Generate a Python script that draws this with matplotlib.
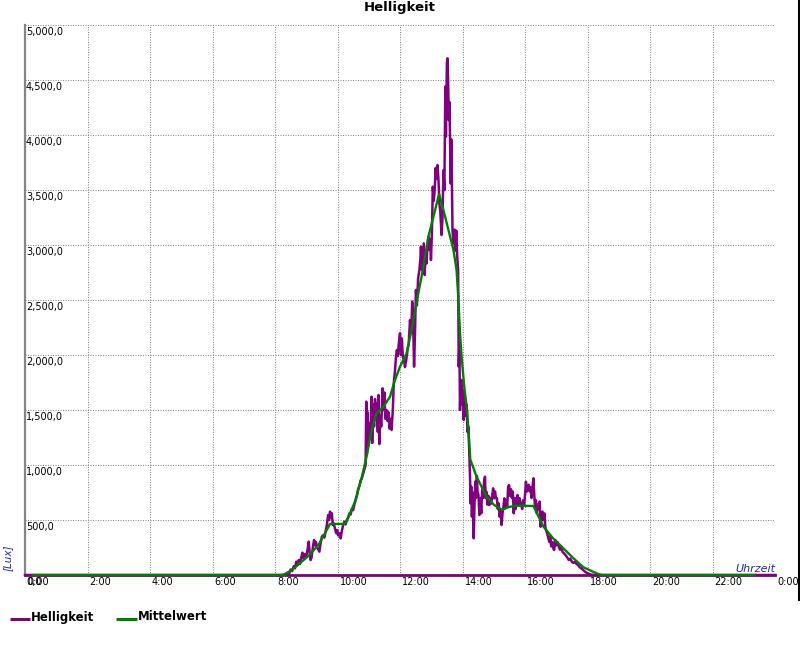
import matplotlib
matplotlib.use("Agg")
import matplotlib.pyplot as plt
from matplotlib.lines import Line2D
from matplotlib.transforms import blended_transform_factory, offset_copy

# ---------------- data ----------------
title = "Helligkeit"
series_names = ["Helligkeit", "Mittelwert"]
y_unit = "[Lux]"
x_name = "Uhrzeit"

x_tick_hours = list(range(0, 25, 2))
x_tick_labels = ["0:00", "2:00", "4:00", "6:00", "8:00", "10:00", "12:00",
                 "14:00", "16:00", "18:00", "20:00", "22:00", "0:00"]
y_tick_values = [0, 500, 1000, 1500, 2000, 2500, 3000, 3500, 4000, 4500, 5000]
y_tick_labels = ["0,0", "500,0", "1,000,0", "1,500,0", "2,000,0", "2,500,0",
                 "3,000,0", "3,500,0", "4,000,0", "4,500,0", "5,000,0"]

# Helligkeit (raw brightness), hours of day
hell_t = [0.00, 8.20, 8.30, 8.40, 8.45, 8.50, 8.55, 8.60, 8.64, 8.68, 8.72, 8.76, 8.80,
          8.84, 8.88, 8.92, 8.96, 9.00, 9.04, 9.08, 9.11, 9.14, 9.17, 9.21, 9.25, 9.28,
          9.31, 9.35, 9.39, 9.42, 9.46, 9.50, 9.54, 9.58, 9.62, 9.66, 9.70, 9.73, 9.76,
          9.79, 9.82, 9.85, 9.88, 9.92, 9.96, 9.99, 10.02, 10.06, 10.10, 10.14, 10.18,
          10.22, 10.26, 10.30, 10.34, 10.38, 10.42, 10.46, 10.50, 10.54, 10.58, 10.62,
          10.66, 10.70, 10.74, 10.78, 10.82, 10.86, 10.90,
          10.92, 10.94, 10.96, 10.99, 11.02, 11.05, 11.09, 11.11, 11.14, 11.17, 11.20,
          11.23, 11.26, 11.29, 11.31, 11.34, 11.37, 11.40, 11.44, 11.47, 11.50, 11.53,
          11.57, 11.60, 11.63, 11.67, 11.70, 11.73, 11.77, 11.80, 11.84, 11.87, 11.90,
          11.93, 11.96, 12.00, 12.03, 12.06, 12.09, 12.13, 12.16, 12.20, 12.24, 12.28,
          12.32, 12.36, 12.39, 12.42, 12.45, 12.48, 12.51, 12.54, 12.58, 12.62,
          12.65, 12.67, 12.70, 12.73, 12.76, 12.79, 12.82, 12.85, 12.88, 12.91, 12.94,
          12.97, 12.99, 13.02, 13.05, 13.08, 13.11, 13.14, 13.17, 13.20, 13.23, 13.26,
          13.29, 13.33, 13.36, 13.39, 13.42, 13.45, 13.47, 13.50, 13.52, 13.54, 13.56,
          13.58, 13.60, 13.62, 13.64, 13.66, 13.68, 13.71, 13.74, 13.77, 13.80, 13.83,
          13.86, 13.88, 13.90, 13.92, 13.94,
          13.97, 13.99, 14.01, 14.04, 14.07, 14.10, 14.13, 14.16, 14.19, 14.22, 14.24,
          14.26, 14.28, 14.30, 14.33, 14.36, 14.38, 14.41, 14.43, 14.46, 14.48, 14.51,
          14.54, 14.57, 14.60, 14.63, 14.66, 14.69, 14.72, 14.74, 14.77, 14.80, 14.83,
          14.86, 14.89, 14.92, 14.95, 14.98, 15.01, 15.04, 15.07, 15.10, 15.13, 15.16,
          15.19, 15.22, 15.25, 15.28, 15.31, 15.34, 15.37, 15.40, 15.43, 15.46, 15.49,
          15.52, 15.55, 15.58, 15.61, 15.64, 15.67, 15.70, 15.73, 15.76, 15.79, 15.82,
          15.85, 15.88, 15.91, 15.94, 15.97, 16.00, 16.03, 16.06, 16.09, 16.12, 16.15,
          16.18, 16.21, 16.24, 16.27, 16.29, 16.32, 16.35, 16.38, 16.41, 16.44, 16.47,
          16.50, 16.53, 16.56, 16.59, 16.62, 16.65, 16.68, 16.71, 16.75, 16.78, 16.81,
          16.84, 16.88, 16.91, 16.93, 16.97, 17.00, 17.04, 17.08, 17.12, 17.16, 17.20,
          17.25, 17.30, 17.35, 17.40, 17.45, 17.50, 17.55, 17.60, 17.65, 17.70, 17.75,
          17.80, 17.86, 17.92, 18.00, 18.10, 18.20, 24.00]
hell_v = [0, 0, 5, 20, 10, 50, 35, 80, 60, 121, 90, 136, 100,
          160, 203, 150, 190, 170, 230, 303, 200, 136, 160, 250, 318, 270,
          300, 250, 227, 212, 290, 350, 360, 340, 400, 455, 545, 500, 576,
          520, 560, 455, 470, 420, 380, 409, 360, 380, 333, 400, 455,
          485, 460, 500, 520, 560, 550, 600, 590, 640, 680, 720,
          780, 810, 860, 880, 920, 960, 1000,
          1576, 1100, 1480, 1180, 1380, 1250, 1621, 1200, 1550, 1350, 1600,
          1410, 1560, 1300, 1636, 1190, 1450, 1350, 1697, 1500, 1660, 1420,
          1500, 1400, 1480, 1330, 1420, 1318, 1500, 1740, 1860, 1980, 2045,
          1990, 2100, 2197, 2000, 2150, 1985, 1950, 1890, 1955, 2045, 2106,
          2318, 2200, 2485, 2300, 1894, 2200, 2591, 2450, 2700, 2770,
          2864, 2985, 2773, 2900, 3015, 2727, 2950, 2833, 3000, 3076, 2955,
          3050, 2864, 3100, 3530, 3400, 3500, 3700, 3600, 3727, 3600, 3380,
          3300, 3091, 3250, 3680, 3500, 4440, 3985, 4650, 4697, 4500, 4136,
          4300, 3985, 3560, 3960, 3600, 3136, 3015, 3140, 2950, 3130, 2900,
          2773, 1894, 2100, 1500, 1750,
          1773, 1550, 1682, 1410, 1650, 1450, 1550, 1300, 1348, 1076, 900,
          650, 803, 530, 750, 333, 600, 850, 700, 900, 760, 727,
          545, 700, 561, 780, 700, 850, 894, 700, 755, 640, 720,
          636, 700, 650, 720, 788, 697, 760, 700, 697, 600, 650,
          530, 600, 455, 560, 620, 697, 606, 680, 620, 800, 818,
          720, 780, 700, 758, 561, 700, 600, 680, 727, 636, 700,
          660, 636, 600, 680, 636, 720, 848, 760, 788, 820, 760,
          800, 700, 800, 879, 760, 620, 680, 560, 640, 600, 667,
          439, 530, 576, 500, 560, 439, 400, 379, 330, 300, 350,
          260, 300, 242, 227, 318, 270, 300, 258, 230, 258, 210,
          197, 180, 160, 136, 150, 120, 110, 121, 100, 91, 70,
          61, 45, 30, 15, 5, 0, 0]

# Mittelwert (moving average)
mittel_t = [0.26, 8.30, 8.64, 9.07, 9.39, 9.60, 9.76, 10.24, 10.40, 10.56, 10.77, 10.93,
            11.09, 11.25, 11.47, 11.68, 11.84, 12.00, 12.21, 12.37, 12.53, 12.69, 12.91,
            13.07, 13.25, 13.39, 13.55, 13.71, 13.81, 13.87, 13.92, 13.98, 14.06, 14.15,
            14.25, 14.45, 14.77, 15.00, 15.25, 15.45, 15.68, 16.27, 16.59, 16.90, 17.23,
            17.55, 17.87, 18.29, 18.45, 23.33]
mittel_v = [0, 0, 70, 173, 273, 380, 464, 464, 560, 667, 879, 1076,
            1318, 1470, 1530, 1621, 1773, 1894, 2015, 2227, 2480, 2712, 3076,
            3258, 3464, 3318, 3136, 2955, 2773, 2500, 2197, 1955, 1700, 1485,
            1050, 894, 712, 640, 591, 615, 630, 627, 440, 333, 242,
            152, 70, 15, 0, 0]

series_colors = ["#800080", "#008000"]

# ---------------- figure ----------------
W, H = 800, 650
fig = plt.figure(figsize=(8, 6.5), dpi=100)
ax = fig.add_axes([25 / W, 75 / H, 750 / W, 550 / H])
ax.set_xlim(0, 24)
ax.set_ylim(0, 5000)

for s in ["top", "right", "bottom"]:
    ax.spines[s].set_visible(False)
ax.spines["left"].set_color("#858585")
ax.spines["left"].set_linewidth(1.6)

ax.set_xticks(x_tick_hours)
ax.set_yticks(y_tick_values)
ax.tick_params(length=0, labelbottom=False, labelleft=False)
ax.grid(True, color="#8a8a8a", linestyle=(0, (1, 1.4)), linewidth=0.75)

# baseline in series colour
ax.axhline(0, color=series_colors[0], lw=2.0, clip_on=False, zorder=3)

ax.plot(hell_t, hell_v, color=series_colors[0], lw=1.8, zorder=4, clip_on=False)
ax.plot(mittel_t, mittel_v, color=series_colors[1], lw=1.7, zorder=5, clip_on=False)

# tick labels
tx = blended_transform_factory(ax.transData, ax.transAxes)
tx = offset_copy(tx, fig=fig, x=2, y=-2, units="dots")
for h, lab in zip(x_tick_hours, x_tick_labels):
    ax.text(h, 0, lab, transform=tx, ha="left", va="top", fontsize=7, color="black",
            clip_on=False)

ty = blended_transform_factory(ax.transAxes, ax.transData)
ty = offset_copy(ty, fig=fig, x=1, y=-2, units="dots")
for v, lab in zip(y_tick_values, y_tick_labels):
    ax.text(0, v, lab, transform=ty, ha="left", va="top", fontsize=7, color="black",
            clip_on=False, zorder=6)

# title and axis names
fig.text(0.5, 1 - 8 / H, title, ha="center", va="center", fontsize=9.5, fontweight="bold")
fig.text(8 / W, 1 - 558 / H, y_unit, rotation=90, ha="center", va="center",
         fontsize=7.5, style="italic", color="#2626a8")
fig.text(775 / W, 1 - 572 / H, x_name, ha="right", va="baseline",
         fontsize=8, style="italic", color="#2626a8")

# right border line
fig.add_artist(Line2D([798.5 / W, 798.5 / W], [1, 1 - 600 / H], color="black", lw=1.5))

# legend
leg_y = 1 - 619 / H
for (x0, x1), name, col in zip([(10, 30), (116, 137)], series_names, series_colors):
    fig.add_artist(Line2D([x0 / W, x1 / W], [leg_y, leg_y], color=col, lw=2.2,
                          solid_capstyle="butt"))
    fig.text((x1 + 1) / W, 1 - 617 / H, name, ha="left", va="center",
             fontsize=8.5, fontweight="bold")

fig.savefig("out.png", dpi=100)
